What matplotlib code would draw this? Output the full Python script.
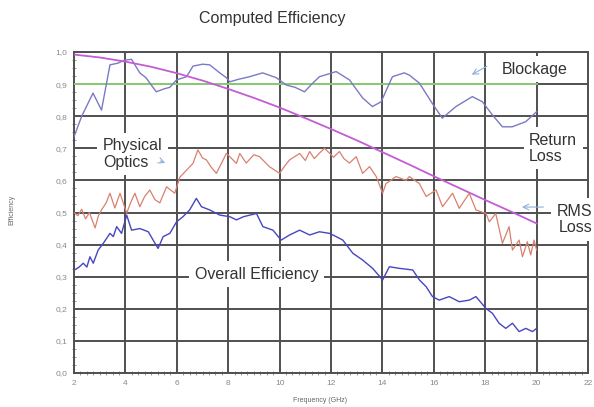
import matplotlib
matplotlib.use("Agg")
import matplotlib.pyplot as plt
from matplotlib.ticker import MultipleLocator

plt.rcParams['font.family'] = ['Liberation Sans', 'DejaVu Sans']

# top curve (return loss / mismatch)
rl_freq = [2.0, 2.3, 2.74, 3.07, 3.4, 3.7, 3.98, 4.24, 4.56, 4.8, 5.2, 5.5, 5.73, 5.99,
           6.38, 6.63, 7.0, 7.28, 7.67, 7.93, 8.06, 8.4, 8.83, 9.34, 9.87, 10.26, 10.6,
           10.97, 11.25, 11.55, 12.2, 12.72, 13.23, 13.61, 13.95, 14.39, 14.85, 15.05,
           15.44, 15.94, 16.33, 16.86, 17.5, 17.89, 18.28, 18.67, 19.05, 19.58, 20.0]
rl_eff = [0.736, 0.80, 0.872, 0.819, 0.96, 0.965, 0.975, 0.977, 0.935, 0.92, 0.876, 0.885,
          0.89, 0.913, 0.923, 0.956, 0.962, 0.96, 0.935, 0.92, 0.907, 0.915, 0.923, 0.935,
          0.92, 0.897, 0.89, 0.876, 0.90, 0.923, 0.939, 0.913, 0.857, 0.83, 0.845, 0.923,
          0.935, 0.928, 0.903, 0.84, 0.794, 0.83, 0.861, 0.845, 0.804, 0.767, 0.767,
          0.783, 0.814]

# blockage (flat)
blk_freq = [2.0, 20.0]
blk_eff = [0.9, 0.9]

# RMS surface loss
rms_freq = [2, 3, 4, 5, 6, 7, 8, 9, 10, 11, 12, 13, 14, 15, 16, 17, 18, 19, 20]
rms_eff = [0.992, 0.983, 0.970, 0.954, 0.934, 0.911, 0.885, 0.857, 0.827, 0.794, 0.760,
           0.725, 0.688, 0.651, 0.613, 0.576, 0.539, 0.503, 0.466]

# physical optics
po_freq = [2.0, 2.15, 2.3, 2.45, 2.6, 2.82, 2.95, 3.07, 3.25, 3.4, 3.59, 3.79, 4.05, 4.2,
           4.37, 4.56, 4.75, 4.95, 5.15, 5.34, 5.6, 5.92, 6.12, 6.38, 6.63, 6.82, 7.0,
           7.15, 7.35, 7.54, 7.93, 8.06, 8.32, 8.45, 8.7, 9.0, 9.22, 9.6, 10.0, 10.2,
           10.39, 10.78, 11.0, 11.17, 11.35, 11.55, 11.75, 11.94, 12.1, 12.33, 12.5,
           12.72, 12.98, 13.23, 13.5, 13.76, 14.01, 14.14, 14.53, 14.92, 15.05, 15.44,
           15.7, 16.09, 16.34, 16.73, 16.99, 17.38, 17.64, 18.03, 18.16, 18.41, 18.67,
           18.93, 19.06, 19.32, 19.45, 19.64, 19.77, 19.9, 20.0]
po_eff = [0.50, 0.49, 0.51, 0.48, 0.50, 0.452, 0.49, 0.508, 0.53, 0.56, 0.514, 0.56,
          0.498, 0.53, 0.56, 0.518, 0.55, 0.57, 0.54, 0.53, 0.58, 0.56, 0.61, 0.632,
          0.653, 0.695, 0.67, 0.664, 0.64, 0.622, 0.684, 0.674, 0.653, 0.684, 0.654,
          0.68, 0.674, 0.643, 0.622, 0.645, 0.664, 0.684, 0.662, 0.69, 0.668, 0.685,
          0.70, 0.685, 0.672, 0.69, 0.668, 0.654, 0.674, 0.622, 0.643, 0.612, 0.56,
          0.59, 0.612, 0.60, 0.612, 0.59, 0.55, 0.57, 0.518, 0.56, 0.513, 0.56, 0.508,
          0.497, 0.471, 0.497, 0.404, 0.456, 0.383, 0.414, 0.362, 0.409, 0.368, 0.414,
          0.383]

# overall efficiency
ov_freq = [2.0, 2.2, 2.36, 2.5, 2.62, 2.75, 2.94, 3.14, 3.4, 3.53, 3.66, 3.85, 4.05,
           4.24, 4.56, 4.89, 5.08, 5.27, 5.47, 5.73, 5.99, 6.24, 6.5, 6.76, 6.96, 7.28,
           7.67, 8.06, 8.32, 8.6, 9.1, 9.35, 9.74, 10.06, 10.39, 10.78, 11.17, 11.55,
           11.94, 12.2, 12.46, 12.85, 13.23, 13.62, 14.01, 14.27, 14.66, 15.18, 15.44,
           15.7, 15.95, 16.21, 16.6, 16.99, 17.38, 17.64, 18.03, 18.28, 18.54, 18.8,
           19.06, 19.32, 19.58, 19.84, 20.0]
ov_eff = [0.32, 0.33, 0.342, 0.33, 0.362, 0.342, 0.383, 0.404, 0.435, 0.425, 0.456,
          0.435, 0.492, 0.445, 0.45, 0.44, 0.414, 0.388, 0.425, 0.435, 0.471, 0.487,
          0.508, 0.544, 0.518, 0.508, 0.492, 0.487, 0.477, 0.487, 0.497, 0.456, 0.445,
          0.414, 0.43, 0.445, 0.43, 0.44, 0.435, 0.425, 0.414, 0.373, 0.352, 0.326,
          0.29, 0.331, 0.326, 0.321, 0.29, 0.269, 0.238, 0.227, 0.238, 0.222, 0.227,
          0.238, 0.201, 0.186, 0.155, 0.139, 0.155, 0.129, 0.139, 0.129, 0.139]

x_ticks = [2, 4, 6, 8, 10, 12, 14, 16, 18, 20, 22]
y_ticks = [0.0, 0.1, 0.2, 0.3, 0.4, 0.5, 0.6, 0.7, 0.8, 0.9, 1.0]
y_tick_labels = ['0,0', '0,1', '0,2', '0,3', '0,4', '0,5', '0,6', '0,7', '0,8', '0,9', '1,0']

fig = plt.figure(figsize=(5.94, 4.07), dpi=100)
ax = fig.add_axes([74 / 594, 1 - 373 / 407, (588 - 74) / 594, (373 - 52) / 407])

grid_col = '#505050'
ax.set_xlim(2, 22)
ax.set_ylim(0, 1.0)
ax.set_xticks(x_ticks)
ax.set_yticks(y_ticks)
ax.set_yticklabels(y_tick_labels)
ax.xaxis.set_minor_locator(MultipleLocator(0.25))
ax.yaxis.set_minor_locator(MultipleLocator(0.025))
ax.grid(True, which='major', color=grid_col, linewidth=1.4, zorder=1)
ax.set_axisbelow(True)
ax.tick_params(which='major', length=0, labelsize=6, labelcolor='#888888', pad=5)
ax.tick_params(which='minor', direction='inout', length=2.5, width=0.6, color='#888888')
for s in ax.spines.values():
    s.set_color(grid_col)
    s.set_linewidth(1.4)

ax.plot(blk_freq, blk_eff, color='#8cd878', linewidth=1.3, zorder=3)
ax.plot(rl_freq, rl_eff, color='#7a7ac4', linewidth=1.0, zorder=3)
ax.plot(rms_freq, rms_eff, color='#c45cd6', linewidth=1.3, zorder=3)
ax.plot(po_freq, po_eff, color='#d9806e', linewidth=0.9, zorder=3)
ax.plot(ov_freq, ov_eff, color='#4646c0', linewidth=1.0, zorder=3)

box = dict(boxstyle='square,pad=0.35', facecolor='white', edgecolor='none')
txt_col = '#333333'
fs = 11.5
ax.text(3.13, 0.682, 'Physical\nOptics', fontsize=fs, color=txt_col, ha='left',
        va='center', linespacing=1.1, bbox=box, zorder=4)
ax.text(18.66, 0.947, 'Blockage', fontsize=fs, color=txt_col, ha='left',
        va='center', bbox=box, zorder=4)
ax.text(19.71, 0.70, 'Return\nLoss', fontsize=fs, color=txt_col, ha='left',
        va='center', linespacing=1.1, bbox=box, zorder=4)
ax.text(22.18, 0.478, 'RMS\nLoss', fontsize=fs, color=txt_col, ha='right',
        va='center', multialignment='right', linespacing=1.1, bbox=box, zorder=4,
        clip_on=False)
ax.text(6.70, 0.308, 'Overall Efficiency', fontsize=fs, color=txt_col, ha='left',
        va='center', bbox=box, zorder=4)

arrow = dict(arrowstyle='->', color='#8fb0dd', linewidth=0.8)
ax.annotate('', xy=(5.65, 0.651), xytext=(5.26, 0.664), arrowprops=arrow, zorder=5)
ax.annotate('', xy=(17.38, 0.925), xytext=(18.16, 0.96), arrowprops=arrow, zorder=5)
ax.annotate('', xy=(19.32, 0.517), xytext=(20.37, 0.517), arrowprops=arrow, zorder=5)

fig.text(272 / 594, 1 - 18 / 407, 'Computed Efficiency', fontsize=11.5, color=txt_col,
         ha='center', va='center')
fig.text(12 / 594, 1 - 210 / 407, 'Efficiency', fontsize=5, color='#666666',
         rotation=90, ha='center', va='center')
fig.text(320 / 594, 1 - 401 / 407, 'Frequency (GHz)', fontsize=5, color='#666666',
         ha='center', va='center')

fig.savefig('out.png', dpi=100, facecolor='white')
